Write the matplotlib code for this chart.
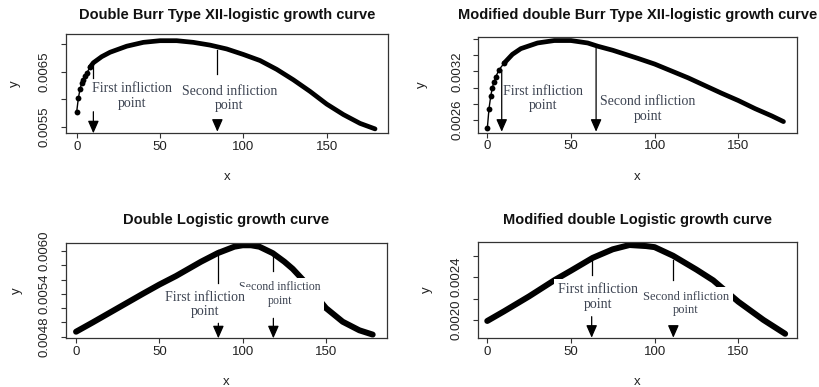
import numpy as np
import matplotlib.pyplot as plt

plt.rcParams['font.family'] = ['Liberation Sans', 'DejaVu Sans']

# valores
x_burr = [0, 1, 2, 3, 4, 5, 6, 8, 10, 15, 20, 30, 40, 50, 60, 70, 80, 90, 100,
          110, 120, 130, 140, 150, 160, 170, 179]
y_burr = [0.00577, 0.00602, 0.00618, 0.00629, 0.00635, 0.00642, 0.00647, 0.00658,
          0.00666, 0.00677, 0.00685, 0.00696, 0.00703, 0.00706, 0.00706, 0.00703,
          0.00698, 0.00691, 0.00681, 0.00670, 0.00654, 0.00635, 0.00614, 0.00591,
          0.00572, 0.00556, 0.00546]

x_mburr = [0, 1, 2, 3, 4, 5, 7, 10, 15, 20, 30, 40, 50, 60, 66, 75, 90, 100, 120,
           140, 150, 160, 170, 177]
y_mburr = [0.00250, 0.00274, 0.00289, 0.00300, 0.00307, 0.00313, 0.00322, 0.00330,
           0.00341, 0.00348, 0.00355, 0.00358, 0.00358, 0.00355, 0.00351, 0.00346,
           0.00336, 0.00329, 0.00312, 0.00293, 0.00284, 0.00274, 0.00265, 0.00258]

x_log = [0, 10, 25, 40, 50, 60, 75, 85, 95, 100, 105, 110, 118, 125, 130, 140, 145,
         150, 160, 170, 178]
y_log = [0.00487, 0.00500, 0.00520, 0.00540, 0.00553, 0.00565, 0.00585, 0.00597,
         0.00606, 0.00608, 0.00608, 0.00606, 0.00597, 0.00585, 0.00575, 0.00550,
         0.00534, 0.00520, 0.00501, 0.00489, 0.00483]

x_mlog = [0, 10, 25, 40, 50, 63, 75, 85, 95, 100, 111, 125, 135, 150, 165, 178]
y_mlog = [0.00199, 0.00208, 0.00222, 0.00237, 0.00246, 0.00258, 0.00266, 0.00270,
          0.00269, 0.00268, 0.00260, 0.00247, 0.00237, 0.00217, 0.00200, 0.00187]

titulos = ['Double Burr Type XII-logistic growth curve',
           'Modified double Burr Type XII-logistic growth curve',
           'Double Logistic growth curve',
           'Modified double Logistic growth curve']

xticks = [0, 50, 100, 150]
yticks = [[0.0055, 0.0060, 0.0065, 0.0070],
          [0.0026, 0.0028, 0.0030, 0.0032, 0.0034, 0.0036],
          [0.0048, 0.0050, 0.0052, 0.0054, 0.0056, 0.0058, 0.0060],
          [0.0020, 0.0022, 0.0024, 0.0026]]
yticklabels = [['0.0055', '', '0.0065', ''],
               ['0.0026', '', '', '0.0032', '', ''],
               ['0.0048', '', '', '0.0054', '', '', '0.0060'],
               ['0.0020', '', '0.0024', '']]

# puntos de inflexion (x)
infl_1 = [10, 8.6, 85.4, 62.4]
infl_2 = [84.4, 65, 118.4, 111.2]

datos = [(x_burr, y_burr), (x_mburr, y_mburr), (x_log, y_log), (x_mlog, y_mlog)]

# cajas en pixeles: izquierda, derecha, arriba, abajo
cajas = [(65.7, 387.7, 34.3, 133.3), (478.3, 796.7, 36.5, 132.7),
         (65.7, 386.7, 242.7, 338.3), (477.7, 796.7, 241.7, 338.3)]
xlims = [(-6.6, 186.6), (-5.4, 184.9), (-6.2, 186.4), (-5.7, 184.9)]
ylims = [(0.00538, 0.007176), (0.002443, 0.00363), (0.004778, 0.006116),
         (0.001828, 0.002731)]
titulo_y = [15, 15, 220, 220]
ylab_x = [15, 422, 16.7, 426.7]
xlab_y = [177, 177, 381.7, 381.7]
grosor = [3.4, 3.4, 4.3, 4.3]
k_denso = [7, 7, 0, 0]  # puntos sueltos al principio (se ven como bolitas)

anot = [
    dict(l1=(0.69, 0.556), f1=(0.218, 0.0), t1=(33, 0.375),
         l2=(0.841, 0.599), f2=(0.107, 0.016), t2=(91.6, 0.354), s2=10),
    dict(l1=None, f1=(0.652, 0.01), t1=(33.3, 0.356),
         l2=None, f2=(0.877, 0.01), t2=(95.9, 0.246), s2=10),
    dict(l1=(0.924, 0.575), f1=(0.157, 0.0), t1=(77.4, 0.354),
         l2=(0.871, 0.704), f2=(0.209, 0.0), t2=(122.4, 0.463), s2=8.6),
    dict(l1=(0.828, 0.655), f1=(0.224, 0.006), t1=(66.3, 0.425),
         l2=(0.81, 0.604), f2=(0.107, 0.006), t2=(118.7, 0.362), s2=9),
]

color_txt = '#3d4452'
gris = '#222222'

fig = plt.figure(figsize=(8.19, 3.87), dpi=100)
W, H = 819, 387

for i in range(4):
    l, r, t, b = cajas[i]
    ax = fig.add_axes([l / W, 1 - b / H, (r - l) / W, (b - t) / H])
    w_px, h_px = r - l, b - t
    x, y = datos[i]
    k = k_denso[i]
    if k > 0:
        ax.plot(x[:k + 1], y[:k + 1], color='black', lw=1, marker='o',
                ms=4.2, mew=0, zorder=2)
    ax.plot(x[k:], y[k:], color='black', lw=grosor[i], solid_capstyle='round',
            solid_joinstyle='round', zorder=2)
    ax.set_xlim(xlims[i])
    ax.set_ylim(ylims[i])
    ax.set_xticks(xticks)
    ax.set_xticklabels([str(v) for v in xticks])
    ax.set_yticks(yticks[i])
    ax.set_yticklabels(yticklabels[i])
    for lab in ax.get_yticklabels():
        lab.set_rotation(90)
        lab.set_va('center')
    ax.tick_params(axis='both', direction='out', length=3.6, width=0.8,
                   labelsize=9.5, colors='#333333', labelcolor=gris)
    ax.tick_params(axis='x', pad=2)
    ax.tick_params(axis='y', pad=7)
    for sp in ax.spines.values():
        sp.set_color('#333333')
        sp.set_linewidth(0.9)

    ax.set_title(titulos[i], fontsize=10.5, fontweight='bold', pad=0,
                 y=1 + (t - titulo_y[i]) / h_px, va='center', color='#111111')
    ax.set_xlabel('x', fontsize=9.5, color=gris)
    ax.set_ylabel('y', fontsize=9.5, color=gris)
    ax.xaxis.set_label_coords(0.5, -(xlab_y[i] - b) / h_px)
    ax.xaxis.label.set_va('center')
    ax.yaxis.set_label_coords(-(l - ylab_x[i]) / w_px, 0.5)
    ax.yaxis.label.set_va('center')

    a = anot[i]
    tr = ax.get_xaxis_transform()
    for xi, lin, fle in [(infl_1[i], a['l1'], a['f1']), (infl_2[i], a['l2'], a['f2'])]:
        if lin is not None:
            ax.plot([xi, xi], lin, color='black', lw=0.9, transform=tr, zorder=4)
        ax.annotate('', xy=(xi, fle[1]), xytext=(xi, fle[0]), xycoords=tr, textcoords=tr,
                    arrowprops=dict(arrowstyle='-|>,head_length=0.75,head_width=0.33',
                                    color='black', lw=0.9, shrinkA=0, shrinkB=0,
                                    mutation_scale=10), zorder=4)
    caja = dict(boxstyle='square,pad=0.3', facecolor='white', edgecolor='none')
    ax.text(a['t2'][0], a['t2'][1], 'Second infliction\npoint', transform=tr,
            ha='center', va='center', fontsize=a['s2'], family='Liberation Serif',
            color=color_txt, linespacing=1.15, bbox=caja, zorder=3)
    ax.text(a['t1'][0], a['t1'][1], 'First infliction\npoint', transform=tr,
            ha='center', va='center', fontsize=10, family='Liberation Serif',
            color=color_txt, linespacing=1.15, bbox=caja, zorder=3)

fig.savefig('out.png', dpi=100, facecolor='white')
